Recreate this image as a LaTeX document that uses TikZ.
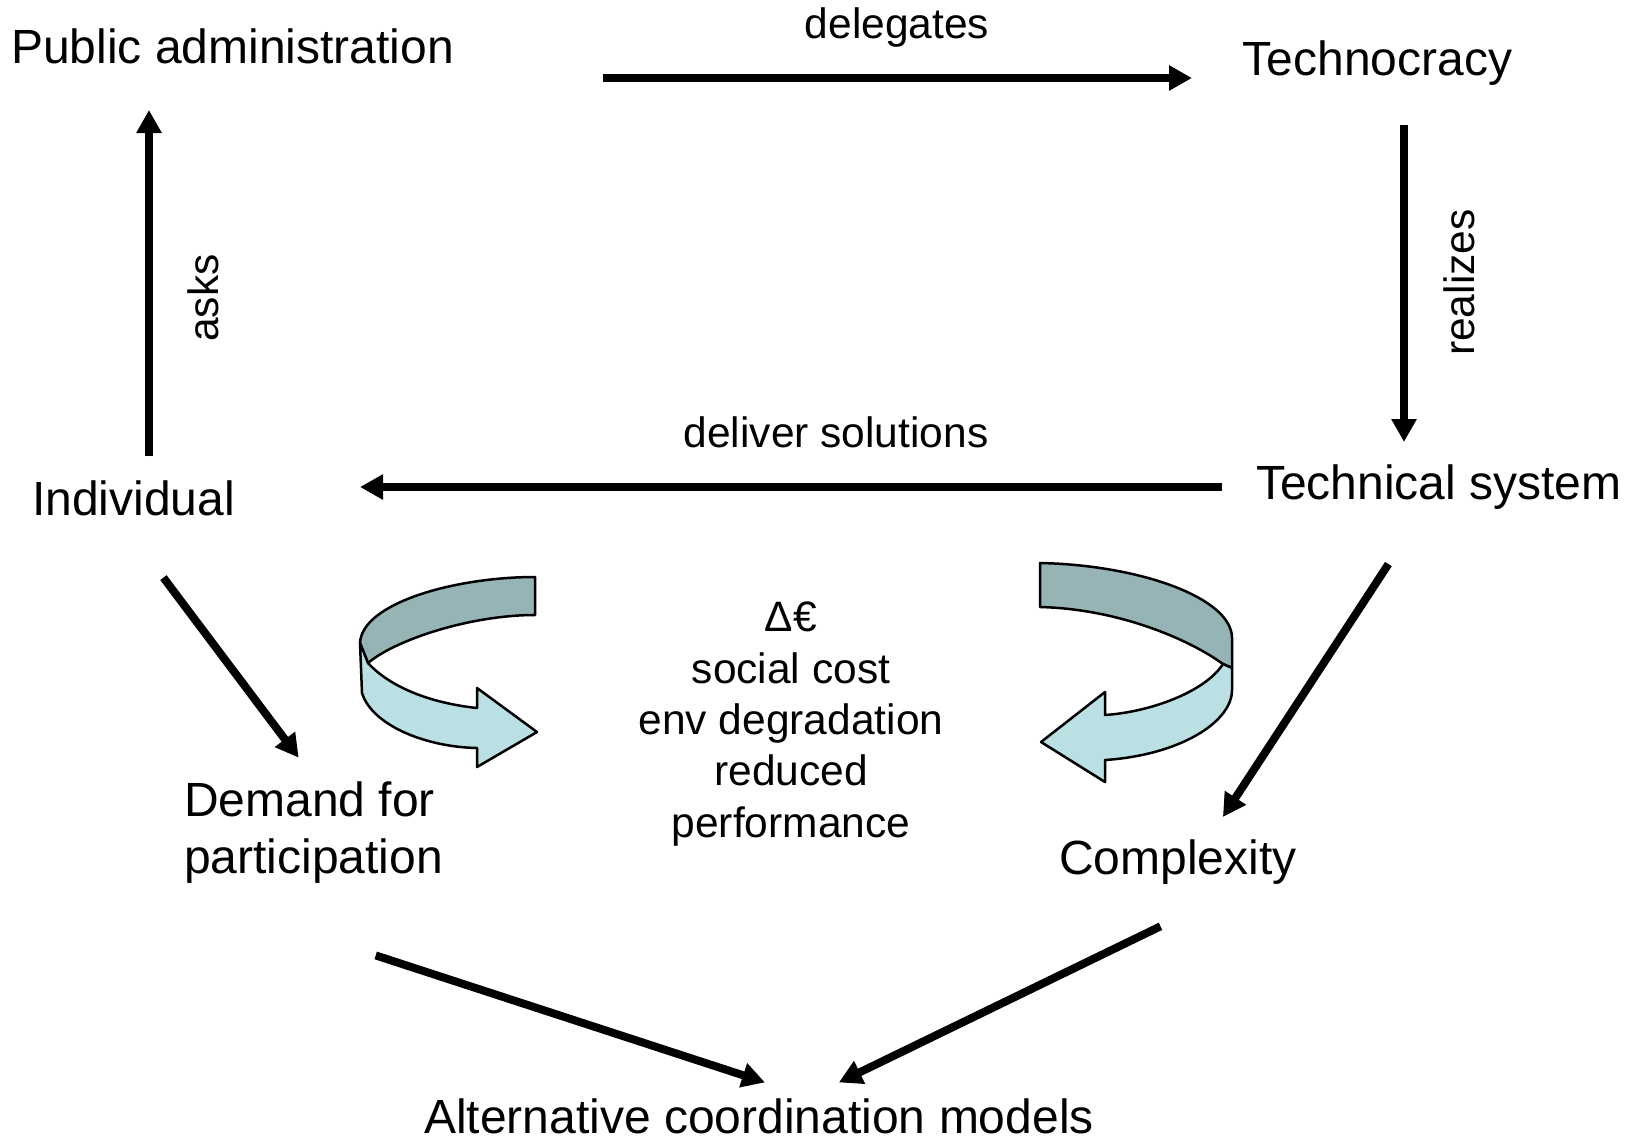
\documentclass[tikz,border=0pt]{standalone}
\usepackage{fontspec}
\setmainfont{Liberation Sans}
\usetikzlibrary{arrows.meta}
\definecolor{banddark}{HTML}{96B4B5}
\definecolor{bandlight}{HTML}{BAE0E4}
\tikzset{
  conn/.style={line width=8pt,-{Triangle[length=23pt,width=24pt]}},
  bigtext/.style={inner sep=0pt,font=\fontsize{48}{57}\selectfont},
  smalltext/.style={inner sep=0pt,font=\fontsize{42.5}{51.3}\selectfont},
  ribbon/.style={draw=black,line width=2.5pt,line join=round},
}
\begin{document}
\begin{tikzpicture}[x=1pt,y=-1pt]
\useasboundingbox (0,0) rectangle (1632,1138);

% text nodes
\node[bigtext,anchor=base west] (pa) at (11,63.5) {Public administration};
\node[smalltext,anchor=base] (lbdel) at (897,38.5) {delegates};
\node[bigtext,anchor=base] (tc) at (1377.5,75.6) {Technocracy};
\node[smalltext,rotate=90] (lbreal) at (1459,282.6) {realizes};
\node[bigtext,anchor=base west] (ts) at (1256,499.5) {Technical system};
\node[smalltext,anchor=base] (lbdeliv) at (836,447.5) {deliver solutions};
\node[bigtext,anchor=base west] (ind) at (32,515) {Individual};
\node[smalltext,rotate=90] (lbasks) at (203,298) {asks};
\node[bigtext,anchor=north west,align=left] (dem) at (184,782) {Demand for\\participation};
\node[bigtext,anchor=base west] (cx) at (1059,874) {Complexity};
\node[bigtext,anchor=base] (alt) at (759,1133) {Alternative coordination models};
\node[smalltext,anchor=north,align=center] (mid) at (791,602) {Δ€\\social cost\\env degradation\\reduced\\performance};

% connector end points
\coordinate (delS) at (603,78);   \coordinate (delE) at (1192,78);
\coordinate (realS) at (1404,125); \coordinate (realE) at (1404,442);
\coordinate (delivS) at (1222,487); \coordinate (delivE) at (360,487);
\coordinate (askS) at (149,456);  \coordinate (askE) at (149,110);
\coordinate (idS) at (163.4,577.6); \coordinate (idE) at (298.7,757.7);
\coordinate (tcS) at (1388.4,564.1); \coordinate (tcE) at (1222.9,817);
\coordinate (daS) at (375.7,955.4); \coordinate (daE) at (765,1082.4);
\coordinate (caS) at (1160.5,926.3); \coordinate (caE) at (838.9,1082.4);

\draw[conn] (delS) -- (delE);
\draw[conn] (realS) -- (realE);
\draw[conn] (delivS) -- (delivE);
\draw[conn] (askS) -- (askE);
\draw[conn] (idS) -- (idE);
\draw[conn] (tcS) -- (tcE);
\draw[conn] (daS) -- (daE);
\draw[conn] (caS) -- (caE);

% left curved ribbon arrow
\draw[ribbon,fill=banddark] (535,577) .. controls (455,577) and (362,603) .. (360,643)
  -- (368,663) .. controls (395,640) and (470,615) .. (535,615) -- cycle;
\draw[ribbon,fill=bandlight] (360,643) -- (362,693) .. controls (372,725) and (425,747) .. (477,748)
  -- (477,767) -- (537,732) -- (477,688) -- (477,708)
  .. controls (430,703) and (390,687) .. (368,663) -- cycle;

% right curved ribbon arrow
\draw[ribbon,fill=banddark] (1040,563) .. controls (1140,565) and (1232,598) .. (1232,638)
  -- (1232,668) -- (1223,664) .. controls (1190,640) and (1120,609) .. (1040,607) -- cycle;
\draw[ribbon,fill=bandlight] (1232,668) -- (1232,690) .. controls (1232,722) and (1180,755) .. (1105,760)
  -- (1105,782) -- (1041,742) -- (1105,692) -- (1105,715)
  .. controls (1150,712) and (1205,692) .. (1223,664) -- cycle;
\end{tikzpicture}
\end{document}
